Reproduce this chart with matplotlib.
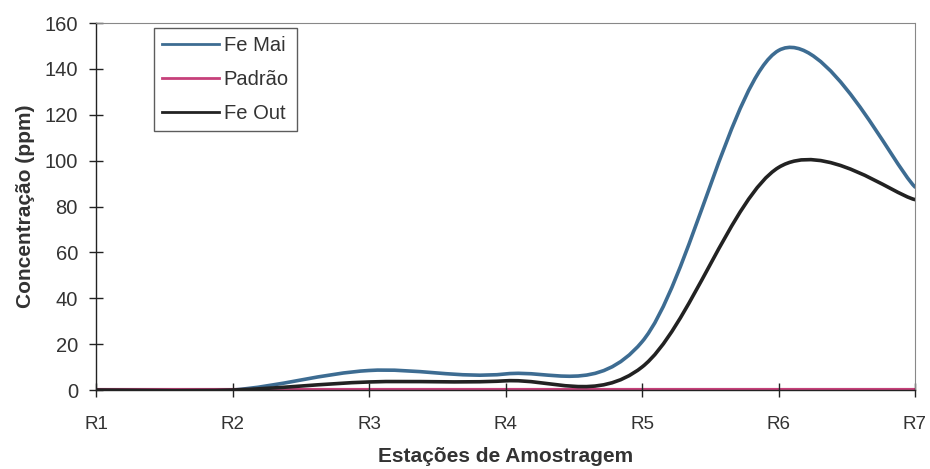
import numpy as np
import matplotlib.pyplot as plt
from matplotlib.path import Path
from matplotlib.patches import PathPatch
from matplotlib.lines import Line2D

plt.rcParams['font.family'] = ['Liberation Sans', 'DejaVu Sans']

estacoes = ['R1', 'R2', 'R3', 'R4', 'R5', 'R6', 'R7']
fe_mai = [0, 0, 8.5, 7, 21, 148, 88.5]
padrao = [0.3, 0.3, 0.3, 0.3, 0.3, 0.3, 0.3]
fe_out = [0, 0, 3.5, 4, 10, 97, 83]

cores = {'Fe Mai': '#3d6c92', 'Padrão': '#c6407a', 'Fe Out': '#222222'}


def curva_suave(ax, x, y):
    """linha suavizada tipo Excel: bezier calculado em pixels, braços limitados"""
    pts = ax.transData.transform(np.column_stack([x, y]).astype(float))
    n = len(pts)
    verts = [pts[0]]
    codes = [Path.MOVETO]
    for i in range(n - 1):
        p0 = pts[i - 1] if i > 0 else pts[i]
        p1 = pts[i]
        p2 = pts[i + 1]
        p3 = pts[i + 2] if i + 2 < n else pts[i + 1]
        meio = np.hypot(*(p2 - p1)) / 2
        a1 = (p2 - p0) / 6.0
        a2 = (p3 - p1) / 6.0
        for a in (a1, a2):
            L = np.hypot(*a)
            if L > meio and L > 0:
                a *= meio / L
        verts += [p1 + a1, p2 - a2, p2]
        codes += [Path.CURVE4] * 3
    verts = ax.transData.inverted().transform(np.array(verts))
    return Path(verts, codes)


fig = plt.figure(figsize=(9.3, 4.69), dpi=100)
ax = fig.add_axes([96 / 930, 1 - 390 / 469, (915 - 96) / 930, (390 - 23) / 469])

xs = np.arange(len(estacoes))
ax.set_xlim(0, 6)
ax.set_ylim(0, 160)

series = [('Fe Mai', fe_mai), ('Padrão', padrao), ('Fe Out', fe_out)]
handles = []
for nome, vals in series:
    patch = PathPatch(curva_suave(ax, xs, vals), facecolor='none',
                      edgecolor=cores[nome], lw=2.6 if nome != 'Padrão' else 2.0,
                      capstyle='round', joinstyle='round')
    ax.add_patch(patch)
    handles.append(Line2D([], [], color=cores[nome], lw=2.0, label=nome))

ax.set_xticks(xs)
ax.set_xticklabels(estacoes)
ax.set_yticks(np.arange(0, 161, 20))

for s in ['top', 'right']:
    ax.spines[s].set_color('#888888')
    ax.spines[s].set_linestyle((0, (2, 1)))
    ax.spines[s].set_linewidth(0.8)
for s in ['left', 'bottom']:
    ax.spines[s].set_color('#222222')
    ax.spines[s].set_linewidth(1.0)

ax.tick_params(axis='both', direction='inout', length=10, width=1.0,
               colors='#222222', labelcolor='#333333')
ax.tick_params(axis='x', pad=14, labelsize=13.5)
ax.tick_params(axis='y', pad=8, labelsize=14.5)

ax.set_xlabel('Estações de Amostragem', fontsize=15, fontweight='bold',
              color='#333333', labelpad=10)
ax.set_ylabel('Concentração (ppm)', fontsize=15, fontweight='bold',
              color='#333333', labelpad=7)

leg = ax.legend(handles=handles, loc='upper left', bbox_to_anchor=(0.071, 0.986),
                fontsize=14.5, frameon=True, fancybox=False, edgecolor='#333333',
                handlelength=2.8, handletextpad=0.25, borderpad=0.4,
                labelspacing=0.74, borderaxespad=0)
leg.get_frame().set_linewidth(1.0)
for t in leg.get_texts():
    t.set_color('#333333')

fig.savefig('out.png', dpi=100)
